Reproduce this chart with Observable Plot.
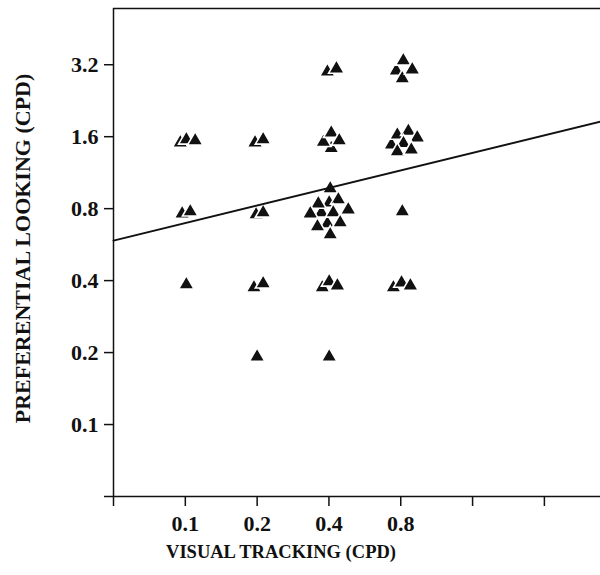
<!DOCTYPE html>
<html><head><meta charset="utf-8">
<script src="https://cdn.jsdelivr.net/npm/d3@7"></script>
<script src="https://cdn.jsdelivr.net/npm/@observablehq/plot@0.6"></script>
<style>body{margin:0;background:#fff}</style>
</head><body><div id="chart"></div>
<script>
// Axis domains (cycles per degree, log base 2)
const xDomain = [0.05, 5.5];
const yDomain = [0.05, 5.5];
const xTicks = [0.05, 0.1, 0.2, 0.4, 0.8, 1.6, 3.2];
const xTickLabels = ["", "0.1", "0.2", "0.4", "0.8", "", ""];
const yTicks = [0.05, 0.1, 0.2, 0.4, 0.8, 1.6, 3.2];
const yTickLabels = ["", "0.1", "0.2", "0.4", "0.8", "1.6", "3.2"];

// Individual subjects (slightly displaced where they overlap), in drawing order
const visualTracking = [
  0.394, 0.430,
  0.766, 0.812, 0.820, 0.894,
  0.0953, 0.101, 0.110,
  0.196, 0.212,
  0.409, 0.379, 0.409, 0.442,
  0.731, 0.774, 0.861, 0.821, 0.938, 0.774, 0.886,
  0.097, 0.1049,
  0.198, 0.212,
  0.401, 0.372, 0.394, 0.405, 0.361, 0.438, 0.334, 0.417, 0.482, 0.358, 0.446, 0.405,
  0.812,
  0.101,
  0.194, 0.212,
  0.375, 0.401, 0.434,
  0.745, 0.806, 0.878,
  0.200, 0.401
];
const preferentialLooking = [
  2.99, 3.08,
  3.02, 2.80, 3.33, 3.05,
  1.51, 1.555, 1.54,
  1.51, 1.555,
  1.43, 1.52, 1.66, 1.54,
  1.48, 1.63, 1.69, 1.50, 1.585, 1.386, 1.41,
  0.762, 0.778,
  0.755, 0.770,
  0.847, 0.770, 0.693, 0.970, 0.839, 0.873, 0.762, 0.770, 0.792, 0.673, 0.699, 0.623,
  0.778,
  0.385,
  0.374, 0.389,
  0.374, 0.396, 0.381,
  0.374, 0.392, 0.381,
  0.192, 0.192
];

// Regression line (log-log), endpoints across the plotted range
const fitX = [0.05, 5.5];
const fitY = [0.588, 1.85];

const points = visualTracking.map((x, i) => ({x, y: preferentialLooking[i]}));
const fit = fitX.map((x, i) => ({x, y: fitY[i]}));

const font = "'Liberation Serif', 'Times New Roman', serif";

const chart = Plot.plot({
  width: 600,
  height: 575,
  marginLeft: 113,
  marginRight: 0,
  marginTop: 8,
  marginBottom: 79,
  style: {fontFamily: font, fontWeight: "bold", fontSize: "22px", color: "#111", background: "#fff"},
  x: {type: "log", base: 2, domain: xDomain},
  y: {type: "log", base: 2, domain: yDomain},
  marks: [
    Plot.ruleY([yDomain[1]], {stroke: "#111", strokeWidth: 1.5}),
    Plot.ruleX([xDomain[0]], {stroke: "#111", strokeWidth: 1.5}),
    Plot.ruleY([yDomain[0]], {stroke: "#111", strokeWidth: 1.5}),
    Plot.axisX({
      ticks: xTicks, tickSize: 10, tickPadding: 9, strokeWidth: 1.5,
      tickFormat: (d) => xTickLabels[xTicks.indexOf(d)],
      label: null, fontSize: 22, fontWeight: "bold", fontFamily: font
    }),
    Plot.axisY({
      ticks: yTicks, tickSize: 9, tickPadding: 6, strokeWidth: 1.5,
      tickFormat: (d) => yTickLabels[yTicks.indexOf(d)],
      label: null, fontSize: 22, fontWeight: "bold", fontFamily: font
    }),
    Plot.dot(points, {
      x: "x", y: "y", symbol: "triangle", r: 5.8,
      fill: "#111", stroke: "white", strokeWidth: 1.6
    }),
    Plot.line(fit, {x: "x", y: "y", stroke: "#111", strokeWidth: 2}),
    Plot.text(["VISUAL TRACKING (CPD)"], {
      frameAnchor: "bottom", dx: -76, dy: 61, fontSize: 18.5, fontWeight: "bold", fontFamily: font, fill: "#111"
    }),
    Plot.text(["PREFERENTIAL LOOKING (CPD)"], {
      frameAnchor: "left", textAnchor: "middle", dx: -91, dy: -4, rotate: -90,
      fontSize: 22, fontWeight: "bold", fontFamily: font, fill: "#111"
    })
  ]
});
document.getElementById("chart").appendChild(chart);
</script>
</body></html>
